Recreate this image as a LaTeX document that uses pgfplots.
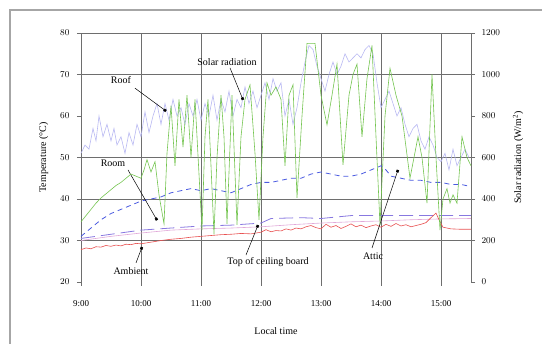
\documentclass[border=0pt]{standalone}
\usepackage{pgfplots}
\pgfplotsset{compat=1.18}
\usepackage{fontspec}
\setmainfont{Liberation Serif}
\usetikzlibrary{arrows.meta}
\definecolor{roofc}{HTML}{B8B8F2}
\definecolor{solarc}{HTML}{74C450}
\definecolor{atticc}{HTML}{4A5AE0}
\definecolor{ceilc}{HTML}{8878E0}
\definecolor{roomc}{HTML}{E0A8D8}
\definecolor{ambc}{HTML}{E85050}
\definecolor{gridc}{HTML}{6E6E6E}
\begin{document}
\begin{tikzpicture}
\begin{axis}[
  name=ax,
  at={(81pt,62pt)}, anchor=south west,
  scale only axis, width=390pt, height=249pt,
  xmin=0, xmax=390, ymin=20, ymax=80,
  clip=false,
  axis line style={draw=none},
  xtick pos=bottom, ytick pos=left,
  xtick={0,60,...,360},
  xticklabels={9:00,10:00,11:00,12:00,13:00,14:00,15:00},
  ytick={20,30,...,80},
  extra y ticks={30,40,50,70,80}, extra y tick labels={},
  extra y tick style={ymajorgrids=true, major tick length=0pt},
  xmajorgrids=true,
  grid style={gridc, line width=0.6pt},
  tick style={gridc, line width=0.6pt},
  tick align=outside, major tick length=4pt,
  ticklabel style={font=\fontsize{9}{10}\selectfont},
  xticklabel style={yshift=-11pt},
  yticklabel style={xshift=-4pt},
  xlabel={Local time}, ylabel={Temperature (°C)},
  label style={font=\fontsize{10}{11}\selectfont},
  xlabel style={yshift=-14pt},
  ylabel style={yshift=1pt},
]
% Roof
\addplot[roofc, line width=0.6pt] coordinates {
(0,51)(4,53)(8,52)(12,57)(15,54)(18,60)(22,55)(26,58)(30,54)(33,57)(36,53)(40,55)(44,51)(48,56)(52,53)(56,58)(60,55)(64,61)(68,56)(72,60)(76,63)(80,58)(84,63)(88,59)(92,64)(96,60)(100,62)(104,58)(108,63)(112,60)(116,64)(120,59)(124,63)(128,60)(132,65)(136,59)(140,64)(144,61)(148,66)(152,60)(156,64)(160,62)(164,67)(168,63)(172,66)(176,62)(180,65)(184,68)(188,64)(192,69)(196,66)(200,68)(204,60)(208,64)(212,58)(216,62)(220,68)(224,73)(228,77)(232,76)(236,72)(240,69)(244,66)(248,70)(252,73)(256,70)(260,72)(264,75)(268,73)(272,74)(276,75)(280,74)(284,76)(288,77)(292,75)(296,68)(300,62)(304,64)(308,66)(312,63)(316,60)(320,62)(324,58)(328,55)(332,57)(336,58)(340,54)(344,52)(348,55)(352,53)(356,50)(360,49)(364,51)(368,47)(372,52)(376,48)(380,50)(384,52)(388,50)
};
% Attic
\addplot[atticc, line width=0.8pt, dash pattern=on 5pt off 4pt] coordinates {
(0,31)(10,33)(20,35)(30,36.5)(40,37.5)(50,38.5)(60,39.5)(70,40)(80,40.5)(90,41.5)(100,42)(110,42.5)(120,42)(130,42.5)(140,42)(150,41.5)(160,42.5)(170,43.5)(180,44)(190,44)(200,44.5)(210,45)(220,45)(230,46)(240,46.5)(250,46)(260,45.5)(270,45.5)(280,46)(290,47)(300,48)(305,47)(310,45.5)(320,45)(330,44.5)(340,44.5)(350,44)(360,44)(370,43.5)(380,43.5)(390,43)
};
% Top of ceiling board
\addplot[ceilc, line width=0.8pt, dash pattern=on 14pt off 6pt] coordinates {
(0,30.5)(30,31.5)(60,32.5)(90,33)(120,33.5)(150,33.7)(180,34.2)(190,35.3)(220,35.5)(240,35.3)(270,36)(300,36)(330,36)(360,36)(390,36)
};
% Room
\addplot[roomc, line width=0.6pt] coordinates {
(0,30)(30,31)(60,31.8)(90,32.5)(120,32.8)(150,33)(180,33.3)(210,33.8)(240,34.2)(270,34.5)(300,34.7)(330,35)(360,35.2)(390,35.3)
};
% Ambient
\addplot[ambc, line width=0.6pt] coordinates {
(0,27.8)(5,28.2)(10,28)(15,28.5)(20,28.4)(25,28.8)(30,28.6)(35,28.9)(40,28.7)(45,29.1)(50,29)(55,29.3)(60,29.2)(70,29.6)(80,30)(90,30.3)(100,30.5)(110,30.8)(120,31)(130,31.2)(140,31.4)(150,31.5)(160,31.7)(170,31.6)(180,32)(185,32.6)(190,32.1)(195,32.4)(200,32.3)(205,32.8)(210,32.5)(215,33)(220,32.8)(225,33.3)(230,33.6)(235,33.1)(240,32.8)(245,33.9)(250,33.2)(255,33.6)(260,32.9)(265,33.4)(270,34)(275,33.3)(280,33.7)(285,33.1)(290,33.5)(295,33.8)(300,33.2)(305,33.9)(310,33.4)(315,34.1)(320,33.5)(325,33.8)(330,33.3)(335,33.6)(340,33.9)(345,34.3)(350,35.5)(355,36.6)(358,35)(362,33.2)(370,32.8)(380,32.7)(390,32.7)
};
% annotations
\node[font=\fontsize{10}{11}\selectfont] at (axis cs:40,68.7) {Roof};
\draw[-{Square[length=2.5pt,width=2.5pt]}, black, line width=0.5pt] (axis cs:54,66.7) -- (axis cs:85,61.2);
\node[font=\fontsize{10}{11}\selectfont] at (axis cs:146,73) {Solar radiation};
\draw[-{Square[length=2.5pt,width=2.5pt]}, black, line width=0.5pt] (axis cs:149,71.6) -- (axis cs:162,63.9);
\node[font=\fontsize{10}{11}\selectfont] at (axis cs:32,48.7) {Room};
\draw[-{Square[length=2.5pt,width=2.5pt]}, black, line width=0.5pt] (axis cs:47,47) -- (axis cs:76,34.9);
\node[font=\fontsize{10}{11}\selectfont] at (axis cs:50,22.6) {Ambient};
\draw[-{Square[length=2.5pt,width=2.5pt]}, black, line width=0.5pt] (axis cs:55,24.6) -- (axis cs:61,28.4);
\node[font=\fontsize{10}{11}\selectfont] at (axis cs:187,24.8) {Top of ceiling board};
\draw[-{Square[length=2.5pt,width=2.5pt]}, black, line width=0.5pt] (axis cs:165,26.5) -- (axis cs:177,33.7);
\node[font=\fontsize{10}{11}\selectfont] at (axis cs:292,26.3) {Attic};
\draw[-{Square[length=2.5pt,width=2.5pt]}, black, line width=0.5pt] (axis cs:291,28.2) -- (axis cs:317,47);
\end{axis}
\begin{axis}[
  at={(81pt,62pt)}, anchor=south west,
  scale only axis, width=390pt, height=249pt,
  xmin=0, xmax=390, ymin=0, ymax=1200,
  clip=false,
  axis line style={draw=none},
  hide x axis,
  ytick pos=right, yticklabel pos=right,
  ytick={0,200,...,1200},
  /pgf/number format/1000 sep={},
  tick style={gridc, line width=0.6pt},
  tick align=outside, major tick length=4pt,
  ticklabel style={font=\fontsize{9}{10}\selectfont},
  yticklabel style={xshift=3pt},
  ylabel={Solar radiation (W/m\textsuperscript{2})},
  ylabel near ticks,
  ylabel style={font=\fontsize{10}{11}\selectfont, yshift=-6pt},
]
\draw[gridc, line width=0.6pt] (rel axis cs:1,0) -- (rel axis cs:1,1);
\addplot[solarc, line width=0.6pt] coordinates {
(0,290)(5,320)(10,350)(15,380)(20,405)(25,425)(30,445)(35,465)(40,480)(45,500)(50,520)(55,510)(60,500)(63,540)(66,590)(70,530)(74,580)(78,420)(83,280)(86,620)(90,850)(94,560)(98,880)(102,650)(106,900)(110,600)(114,880)(118,520)(121,250)(124,700)(127,880)(130,560)(133,230)(136,600)(140,900)(143,700)(146,280)(151,900)(156,275)(160,700)(164,880)(169,950)(174,620)(178,300)(182,700)(186,960)(190,900)(195,940)(200,880)(204,560)(208,900)(212,950)(216,405)(221,800)(226,1150)(234,1150)(240,900)(246,757)(251,900)(256,1050)(262,564)(268,900)(272,1000)(276,1050)(281,700)(286,980)(291,1140)(295,700)(299,275)(304,800)(309,1030)(315,900)(321,800)(325,650)(329,500)(333,600)(337,700)(341,600)(346,380)(351,1000)(355,600)(359,250)(362,400)(366,450)(369,380)(372,420)(376,380)(381,700)(386,600)(390,560)
};
\end{axis}
\draw[gray!70, line width=1.5pt] (10pt,0pt) -- (10pt,334pt) -- (542pt,334pt);
\pgfresetboundingbox
\path[use as bounding box] (0pt,0pt) rectangle (542pt,344pt);
\end{tikzpicture}
\end{document}
